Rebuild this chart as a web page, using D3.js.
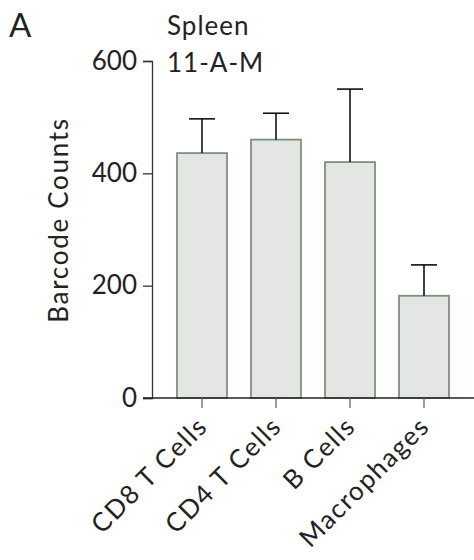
<!DOCTYPE html>
<html><head><meta charset="utf-8">
<script src="https://cdn.jsdelivr.net/npm/d3@7"></script>
<style>body{margin:0;background:#fff}svg{display:block}text{font-family:Lato,"Open Sans",sans-serif;font-weight:400;fill:#222}</style>
</head><body>
<script>
const categories = ["CD8 T Cells","CD4 T Cells","B Cells","Macrophages"];
const means = [436, 460, 420, 182];
const upperErr = [497, 507, 550, 237];
const yTicks = [0, 200, 400, 600];

const W = 474, H = 560;
const svg = d3.select("body").append("svg").attr("width", W).attr("height", H);
const y = d3.scaleLinear().domain([0, 600]).range([398, 61]);
const x = d3.scaleBand().domain(categories).range([165, 461]).paddingInner(24/74).paddingOuter(12/74);

// bars
svg.selectAll("rect.bar").data(categories).join("rect")
  .attr("x", d => x(d)).attr("width", x.bandwidth())
  .attr("y", (d,i) => y(means[i])).attr("height", (d,i) => y(0) - y(means[i]))
  .attr("fill", "#e3e6e3").attr("stroke", "#7f8f7f").attr("stroke-width", 1.8);

// error bars
const eb = svg.append("g").attr("stroke", "#111").attr("stroke-width", 1.6);
categories.forEach((c, i) => {
  const cx = x(c) + x.bandwidth()/2;
  eb.append("line").attr("x1", cx).attr("x2", cx).attr("y1", y(means[i])).attr("y2", y(upperErr[i]));
  eb.append("line").attr("x1", cx-13).attr("x2", cx+13).attr("y1", y(upperErr[i])).attr("y2", y(upperErr[i]));
});

// y axis
const ya = svg.append("g").attr("transform", "translate(152,0)")
  .call(d3.axisLeft(y).tickValues(yTicks).tickSize(9).tickPadding(6).tickFormat(d3.format("d")));
ya.select(".domain").attr("stroke", "#333").attr("stroke-width", 1.3);
ya.selectAll(".tick line").attr("stroke", "#333").attr("stroke-width", 1.3);
ya.selectAll(".tick text").style("font-size", "26px").attr("fill", "#222");

// x axis
svg.append("line").attr("x1", 143).attr("x2", 474).attr("y1", y(0)).attr("y2", y(0)).attr("stroke", "#222").attr("stroke-width", 1.3);
const xa = svg.append("g").attr("transform", `translate(0,${y(0)})`)
  .call(d3.axisBottom(x).tickSize(10).tickPadding(4));
xa.select(".domain").remove();
xa.selectAll(".tick line").attr("stroke", "#666").attr("stroke-width", 1.3);
xa.selectAll(".tick text").style("font-size", "26px").style("letter-spacing", "1.6px").attr("fill", "#222")
  .attr("text-anchor", "end").attr("x", 0).attr("y", 0).attr("dy", 0)
  .attr("transform", "translate(7,30) rotate(-45)");

// labels
svg.append("text").attr("x", 68).attr("y", 220).attr("transform", "rotate(-90,68,220)")
  .attr("text-anchor", "middle").style("font-size", "26px").style("letter-spacing", "1.7px").text("Barcode Counts");
svg.append("text").attr("x", 9).attr("y", 37).style("font-size", "33px").text("A");
svg.append("text").attr("x", 167).attr("y", 35).style("font-size", "26px").style("letter-spacing", "1px").text("Spleen");
svg.append("text").attr("x", 167).attr("y", 72).style("font-size", "26px").style("letter-spacing", "1px").text("11-A-M");
</script>
</body></html>
